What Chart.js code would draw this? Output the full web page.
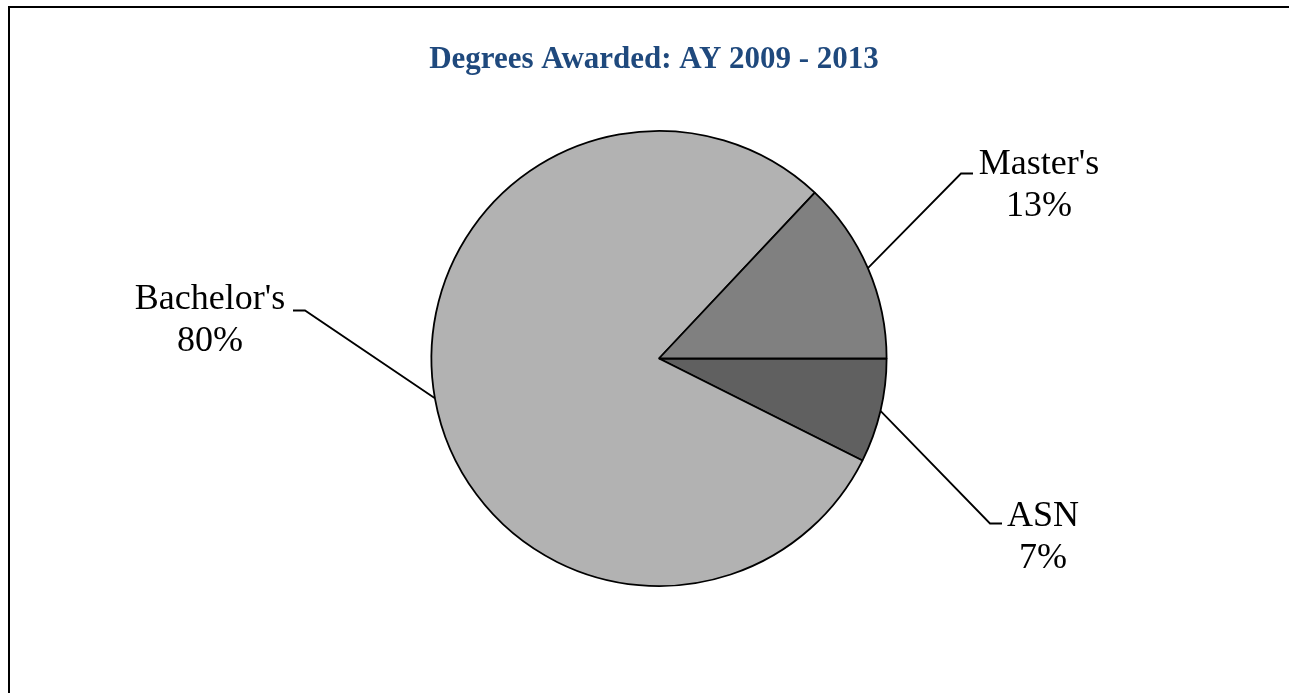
<!DOCTYPE html>
<html>
<head>
<meta charset="utf-8">
<script src="https://cdn.jsdelivr.net/npm/chart.js@4/dist/chart.umd.min.js"></script>
<style>
  html, body { margin: 0; padding: 0; background: #ffffff; }
  #wrap { width: 1289px; height: 693px; position: relative; }
</style>
</head>
<body>
<div id="wrap"><canvas id="c" width="1289" height="693"></canvas></div>
<script>
// ---- data ----
const titleText = "Degrees Awarded: AY 2009 - 2013";
const categories = ["ASN", "Bachelor's", "Master's"];
const shares = [7.4, 79.6, 13.0];
const sliceColors = ["#606060", "#b2b2b2", "#808080"];

// label placement (offsets from pie centre): elbow, end of short tick, text centre/baseline
const labelLayout = [
  { elbow: [331, 165], tick: [343, 165], text: [384, 167] },
  { elbow: [-354, -48], tick: [-366, -48], text: [-449, -50] },
  { elbow: [302, -185], tick: [314, -185], text: [380, -185] }
];

const decor = {
  id: 'decor',
  beforeDraw(chart) {
    const ctx = chart.ctx;
    ctx.save();
    ctx.fillStyle = '#ffffff';
    ctx.fillRect(0, 0, chart.width, chart.height);
    // outer frame
    ctx.strokeStyle = '#000000';
    ctx.lineWidth = 2;
    ctx.strokeRect(9, 7, chart.width + 20, chart.height + 20);
    // title
    ctx.fillStyle = '#1f497d';
    ctx.font = 'bold 31px "Liberation Serif", "Times New Roman", serif';
    ctx.textAlign = 'center';
    ctx.textBaseline = 'alphabetic';
    ctx.fillText(titleText, 654, 68);
    ctx.restore();
  },
  afterDatasetsDraw(chart) {
    const ctx = chart.ctx;
    const meta = chart.getDatasetMeta(0);
    const data = chart.data.datasets[0].data;
    const total = data.reduce((a, b) => a + b, 0);
    ctx.save();
    meta.data.forEach((arc, i) => {
      const p = arc.getProps(['x', 'y', 'startAngle', 'endAngle', 'outerRadius'], true);
      const mid = (p.startAngle + p.endAngle) / 2;
      const sx = p.x + Math.cos(mid) * p.outerRadius;
      const sy = p.y + Math.sin(mid) * p.outerRadius;
      const L = labelLayout[i];
      ctx.strokeStyle = '#000000';
      ctx.lineWidth = 1.8;
      ctx.beginPath();
      ctx.moveTo(sx, sy);
      ctx.lineTo(p.x + L.elbow[0], p.y + L.elbow[1]);
      ctx.lineTo(p.x + L.tick[0], p.y + L.tick[1]);
      ctx.stroke();
      ctx.fillStyle = '#000000';
      ctx.font = '36px "Liberation Serif", "Times New Roman", serif';
      ctx.textAlign = 'center';
      ctx.textBaseline = 'alphabetic';
      const tx = p.x + L.text[0], ty = p.y + L.text[1];
      ctx.fillText(chart.data.labels[i], tx, ty);
      ctx.fillText(Math.round(data[i] / total * 100) + '%', tx, ty + 42);
    });
    ctx.restore();
  }
};

new Chart(document.getElementById('c'), {
  type: 'pie',
  data: {
    labels: categories,
    datasets: [{
      data: shares,
      backgroundColor: sliceColors,
      borderColor: '#000000',
      borderWidth: 1.8,
      hoverOffset: 0
    }]
  },
  options: {
    responsive: false,
    animation: false,
    rotation: 90,
    layout: { padding: { left: 400, right: 371, top: 130, bottom: 106 } },
    plugins: {
      legend: { display: false },
      title: { display: false },
      tooltip: { enabled: false }
    },
    events: []
  },
  plugins: [decor]
});
</script>
</body>
</html>
